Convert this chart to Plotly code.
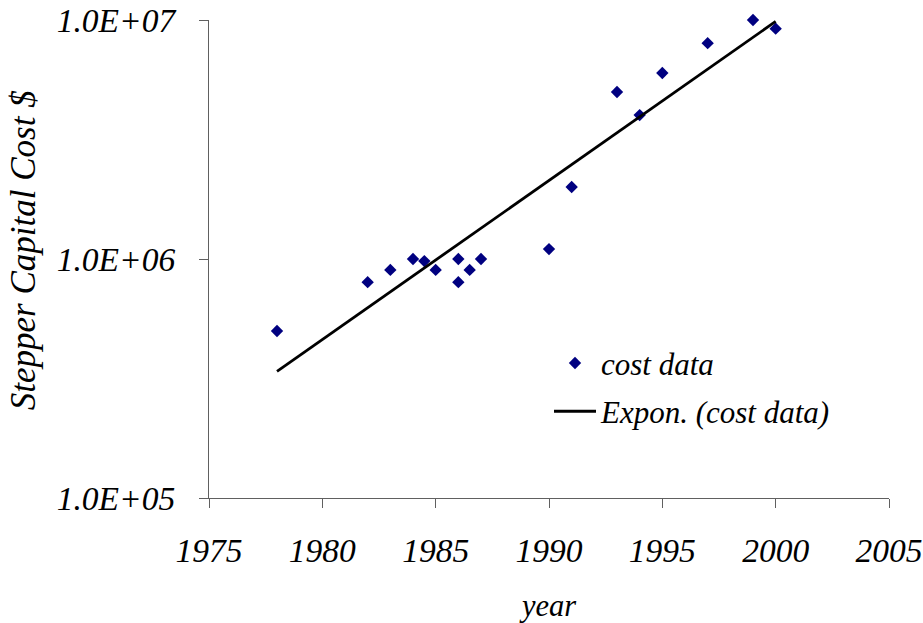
import numpy as np
import plotly.graph_objects as go

# Stepper capital cost observations
years = [1978, 1982, 1983, 1984, 1984.5, 1985, 1986, 1986, 1986.5, 1987,
         1990, 1991, 1993, 1994, 1995, 1997, 1999, 2000]
cost = [5.0e5, 8.0e5, 9.0e5, 1.0e6, 9.8e5, 9.0e5, 1.0e6, 8.0e5, 9.0e5, 1.0e6,
        1.1e6, 2.0e6, 5.0e6, 4.0e6, 6.0e6, 8.0e6, 1.0e7, 9.2e6]

x_ticks = [1975, 1980, 1985, 1990, 1995, 2000, 2005]
y_ticks = [1e5, 1e6, 1e7]
y_tick_text = ["1.0E+05", "1.0E+06", "1.0E+07"]

# Exponential trend: least-squares fit of log10(cost) against year
slope, intercept = np.polyfit(np.array(years), np.log10(cost), 1)
trend_x = np.linspace(min(years), max(years), 60)
trend_y = 10 ** (intercept + slope * trend_x)

FONT = "Liberation Serif"

fig = go.Figure()
fig.add_trace(go.Scatter(
    x=years, y=cost, mode="markers", name="<i>cost data</i>",
    marker=dict(symbol="diamond", size=9.5, color="#000080"),
    legendgroup="a", cliponaxis=False,
))
fig.add_trace(go.Scatter(
    x=trend_x, y=trend_y, mode="lines", name="<i>Expon. (cost data)</i>",
    line=dict(color="black", width=2.8),
    legendgroup="b",
))

axis_common = dict(
    showgrid=False, zeroline=False, showline=True, linecolor="#606060",
    linewidth=1.2, ticks="outside", ticklen=9, tickcolor="#606060",
    tickfont=dict(family=FONT, size=33.5, color="black"),
    automargin=False,
)

fig.update_xaxes(
    range=[1975, 2005], tickvals=x_ticks,
    ticktext=[f"<i>{v}</i>" for v in x_ticks],
    ticklabelstandoff=14,
    title=dict(text="<i>year</i>", font=dict(family=FONT, size=30.5, color="black"),
               standoff=26),
    **axis_common,
)
fig.update_yaxes(
    type="log", range=[5, 7], tickvals=y_ticks,
    ticktext=[f"<i>{t}</i>" for t in y_tick_text],
    ticklabelstandoff=17,
    title=dict(text="&nbsp;&nbsp;<i>Stepper Capital Cost $</i>",
               font=dict(family=FONT, size=35, color="black"), standoff=10),
    **axis_common,
)

fig.update_layout(
    width=923, height=623,
    margin=dict(l=209, r=34, t=20, b=125),
    paper_bgcolor="white", plot_bgcolor="white",
    showlegend=True,
    legend=dict(
        x=0.5, y=0.2316, xanchor="left", yanchor="middle",
        font=dict(family=FONT, size=31, color="black"),
        bgcolor="rgba(0,0,0,0)", tracegroupgap=5, itemwidth=42,
    ),
)

fig.write_html("out.html")
